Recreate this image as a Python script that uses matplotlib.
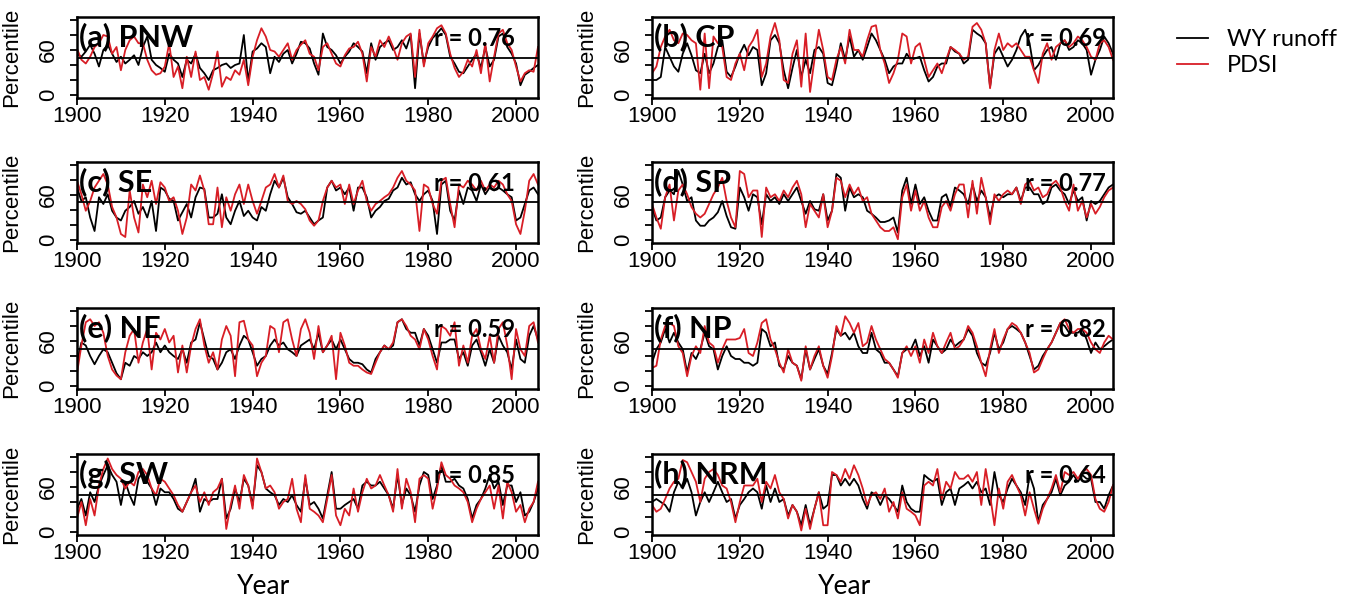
import numpy as np
from matplotlib import pyplot as plt
from matplotlib.lines import Line2D

years = np.arange(1900, 2006)

# percentile series, 1900-2005
runoff_pnw = [55, 51, 58, 67, 55, 38, 60, 67, 55, 44, 51, 42, 47, 53, 40, 64, 78, 47, 40, 36,
              31, 55, 47, 42, 24, 47, 42, 55, 36, 29, 20, 33, 36, 40, 42, 36, 40, 42, 80, 18,
              58, 62, 69, 64, 29, 51, 44, 55, 60, 42, 55, 71, 69, 62, 42, 27, 82, 64, 60, 53,
              42, 51, 58, 69, 64, 58, 29, 69, 47, 64, 69, 73, 60, 64, 73, 62, 80, 9, 82, 42,
              64, 76, 82, 89, 80, 51, 42, 31, 29, 38, 47, 55, 36, 64, 38, 47, 78, 82, 64, 55,
              42, 13, 27, 31, 36, 40]
pdsi_pnw = [62, 47, 42, 51, 64, 69, 80, 78, 55, 64, 33, 60, 73, 78, 69, 69, 47, 33, 27, 29,
            38, 69, 24, 38, 9, 51, 24, 58, 20, 24, 7, 29, 58, 11, 24, 20, 33, 27, 47, 13,
            51, 73, 89, 78, 60, 58, 51, 60, 69, 47, 60, 67, 73, 55, 51, 33, 64, 69, 55, 42,
            38, 53, 62, 64, 71, 55, 18, 64, 51, 73, 64, 78, 64, 47, 69, 78, 82, 24, 87, 38,
            69, 78, 89, 93, 82, 55, 36, 24, 31, 47, 38, 60, 29, 69, 18, 51, 82, 87, 69, 60,
            38, 18, 29, 33, 31, 64]

runoff_cp = [20, 20, 24, 64, 51, 38, 31, 55, 69, 53, 33, 29, 55, 29, 42, 64, 73, 31, 24, 38,
             55, 67, 53, 64, 60, 13, 29, 73, 80, 69, 33, 9, 36, 60, 24, 47, 29, 60, 64, 55,
             16, 13, 38, 69, 47, 78, 51, 60, 47, 64, 82, 73, 60, 47, 29, 38, 42, 42, 55, 47,
             49, 51, 33, 18, 24, 38, 42, 42, 64, 58, 55, 42, 47, 87, 82, 78, 69, 11, 55, 64,
             51, 38, 47, 60, 78, 87, 69, 33, 40, 51, 60, 64, 47, 69, 73, 60, 64, 73, 69, 60,
             27, 47, 60, 78, 69, 55]
pdsi_cp = [29, 38, 64, 78, 87, 73, 69, 82, 80, 73, 69, 7, 82, 9, 78, 69, 64, 24, 20, 42,
           55, 33, 64, 73, 87, 24, 42, 78, 96, 73, 20, 16, 55, 73, 11, 82, 4, 47, 87, 60,
           24, 20, 47, 64, 42, 87, 60, 60, 51, 73, 91, 93, 60, 42, 16, 29, 47, 82, 78, 42,
           64, 69, 47, 24, 33, 42, 29, 47, 64, 60, 55, 47, 51, 91, 96, 87, 69, 9, 60, 82,
           60, 69, 64, 69, 60, 51, 51, 33, 16, 55, 69, 47, 64, 69, 73, 64, 69, 78, 73, 64,
           51, 47, 69, 73, 64, 47]

runoff_se = [70, 52, 57, 30, 12, 57, 48, 61, 39, 30, 26, 39, 44, 52, 35, 44, 30, 52, 12, 70,
             66, 55, 52, 26, 37, 48, 30, 57, 70, 68, 30, 30, 35, 61, 30, 21, 39, 52, 32, 39,
             30, 26, 44, 39, 61, 79, 70, 83, 57, 48, 37, 35, 39, 30, 21, 26, 30, 70, 79, 66,
             70, 61, 70, 39, 70, 70, 57, 30, 39, 44, 52, 55, 66, 70, 83, 74, 77, 61, 52, 61,
             66, 52, 8, 74, 79, 39, 26, 66, 48, 70, 66, 52, 74, 61, 70, 66, 70, 66, 61, 57,
             26, 30, 48, 66, 70, 61]
pdsi_se = [79, 61, 39, 52, 70, 79, 88, 74, 44, 30, 8, 4, 66, 30, 10, 74, 57, 79, 48, 77,
           70, 52, 57, 39, 8, 30, 74, 66, 86, 66, 21, 21, 70, 17, 57, 39, 61, 74, 48, 74,
           52, 35, 52, 70, 74, 88, 70, 86, 52, 48, 52, 48, 41, 26, 19, 26, 52, 70, 79, 70,
           74, 48, 74, 48, 66, 79, 52, 39, 48, 52, 57, 61, 70, 83, 92, 79, 74, 66, 12, 74,
           70, 48, 35, 79, 83, 48, 17, 74, 70, 79, 74, 66, 79, 66, 74, 70, 79, 74, 61, 52,
           21, 8, 39, 79, 88, 74]

runoff_sp = [44, 26, 30, 57, 66, 61, 92, 74, 52, 57, 26, 19, 19, 26, 30, 37, 52, 32, 17, 15,
             70, 57, 39, 61, 57, 21, 61, 52, 57, 48, 61, 52, 61, 70, 52, 35, 52, 41, 39, 61,
             26, 39, 88, 83, 39, 70, 57, 61, 57, 39, 35, 30, 24, 24, 26, 30, 10, 66, 83, 48,
             74, 48, 57, 39, 26, 26, 57, 61, 44, 70, 66, 61, 48, 74, 52, 66, 57, 30, 57, 61,
             57, 61, 61, 70, 52, 70, 70, 61, 61, 48, 52, 70, 74, 66, 61, 48, 66, 52, 57, 26,
             52, 48, 52, 61, 70, 74]
pdsi_sp = [48, 30, 15, 57, 74, 26, 66, 74, 61, 44, 35, 30, 35, 48, 61, 70, 83, 52, 30, 17,
           92, 88, 57, 66, 66, 4, 70, 57, 61, 52, 66, 57, 70, 79, 61, 17, 48, 39, 30, 61,
           17, 39, 83, 79, 57, 74, 61, 70, 52, 57, 35, 26, 17, 12, 12, 17, 1, 57, 74, 39,
           66, 39, 52, 30, 17, 17, 44, 52, 39, 61, 74, 74, 30, 79, 35, 83, 57, 21, 61, 52,
           61, 66, 61, 70, 48, 74, 79, 66, 70, 57, 61, 74, 79, 70, 52, 39, 74, 39, 52, 30,
           48, 35, 44, 57, 66, 70]

runoff_ne = [31, 58, 54, 40, 29, 40, 49, 45, 31, 17, 9, 31, 27, 40, 36, 45, 40, 45, 58, 45,
             54, 45, 40, 36, 49, 31, 58, 62, 85, 62, 40, 36, 22, 31, 45, 49, 36, 54, 67, 62,
             45, 27, 36, 40, 54, 62, 54, 58, 49, 45, 40, 54, 58, 62, 49, 71, 45, 54, 62, 49,
             62, 49, 36, 31, 31, 29, 22, 18, 36, 45, 54, 49, 54, 85, 89, 76, 71, 71, 54, 76,
             67, 49, 31, 58, 58, 62, 62, 36, 45, 27, 54, 62, 45, 27, 49, 31, 67, 54, 45, 22,
             62, 36, 31, 67, 80, 62]
pdsi_ne = [17, 54, 85, 89, 80, 85, 71, 40, 22, 14, 9, 45, 67, 76, 31, 58, 76, 22, 71, 62,
           76, 58, 67, 18, 54, 18, 54, 76, 89, 54, 31, 45, 22, 62, 80, 67, 13, 85, 87, 62,
           54, 13, 31, 40, 80, 76, 45, 85, 89, 62, 40, 76, 89, 71, 36, 80, 45, 54, 67, 9,
           71, 54, 31, 27, 27, 22, 18, 16, 31, 45, 54, 49, 58, 85, 89, 80, 67, 62, 49, 76,
           62, 40, 22, 80, 76, 67, 85, 27, 54, 31, 67, 76, 49, 36, 67, 31, 76, 85, 54, 9,
           76, 49, 40, 80, 85, 58]

runoff_np = [31, 49, 58, 76, 58, 71, 58, 49, 18, 44, 36, 49, 71, 53, 49, 22, 40, 53, 40, 36,
             36, 31, 31, 27, 31, 76, 71, 53, 58, 27, 22, 40, 31, 27, 9, 49, 22, 36, 49, 27,
             16, 44, 76, 67, 71, 62, 71, 53, 44, 44, 71, 49, 44, 31, 31, 22, 13, 44, 49, 49,
             62, 40, 53, 31, 62, 53, 44, 49, 62, 53, 58, 62, 76, 67, 44, 31, 27, 44, 71, 49,
             58, 76, 80, 76, 71, 58, 40, 22, 27, 40, 49, 58, 71, 84, 80, 71, 71, 71, 76, 62,
             44, 58, 49, 53, 58, 62]
pdsi_np = [24, 27, 62, 80, 84, 80, 53, 44, 13, 40, 53, 44, 80, 58, 53, 31, 49, 62, 62, 62,
           64, 76, 44, 40, 58, 84, 89, 62, 49, 31, 18, 49, 31, 27, 7, 53, 22, 40, 53, 27,
           11, 40, 80, 67, 93, 84, 71, 84, 53, 58, 80, 62, 49, 36, 31, 22, 11, 44, 53, 40,
           53, 31, 62, 44, 71, 53, 44, 58, 71, 49, 53, 62, 80, 71, 53, 31, 13, 49, 76, 44,
           62, 76, 84, 80, 71, 58, 44, 18, 22, 36, 49, 58, 71, 84, 89, 76, 71, 76, 76, 71,
           58, 49, 44, 58, 67, 62]

runoff_sw = [31, 44, 22, 53, 40, 62, 76, 89, 76, 67, 36, 67, 49, 36, 71, 80, 67, 58, 36, 58,
             53, 53, 44, 31, 27, 40, 53, 71, 27, 44, 40, 44, 44, 71, 18, 31, 58, 40, 71, 62,
             36, 89, 80, 58, 53, 49, 36, 44, 40, 49, 36, 27, 71, 36, 40, 31, 18, 49, 80, 31,
             31, 36, 40, 44, 31, 62, 67, 62, 62, 67, 58, 49, 31, 76, 36, 58, 49, 27, 62, 80,
             76, 44, 62, 89, 67, 67, 71, 62, 58, 44, 18, 36, 44, 58, 76, 58, 67, 36, 62, 62,
             40, 53, 22, 27, 40, 58]
pdsi_sw = [18, 40, 9, 44, 22, 62, 84, 98, 84, 76, 71, 58, 67, 62, 80, 84, 76, 58, 49, 71,
           67, 58, 49, 36, 27, 40, 53, 62, 40, 53, 36, 53, 58, 71, 4, 36, 62, 31, 76, 62,
           31, 98, 80, 58, 62, 53, 31, 40, 44, 71, 31, 13, 76, 31, 27, 22, 13, 44, 76, 22,
           9, 31, 22, 58, 27, 53, 71, 58, 62, 76, 62, 49, 27, 84, 31, 71, 53, 13, 71, 76,
           71, 31, 58, 93, 76, 71, 62, 58, 53, 40, 13, 31, 44, 53, 62, 31, 62, 18, 67, 53,
           27, 36, 13, 31, 40, 67]

runoff_nrm = [40, 44, 40, 36, 27, 53, 67, 58, 71, 53, 22, 40, 53, 40, 53, 67, 53, 40, 44, 18,
              36, 44, 53, 58, 53, 31, 62, 40, 58, 40, 44, 22, 36, 27, 9, 36, 9, 31, 53, 31,
              36, 76, 76, 62, 71, 62, 71, 62, 44, 31, 53, 49, 36, 49, 44, 36, 27, 62, 40, 31,
              27, 27, 76, 71, 67, 71, 36, 53, 58, 36, 58, 62, 67, 58, 67, 53, 58, 36, 80, 49,
              40, 58, 71, 62, 53, 36, 76, 58, 13, 36, 44, 53, 71, 49, 62, 67, 76, 67, 76, 71,
              71, 40, 40, 31, 49, 62]
pdsi_nrm = [36, 27, 31, 44, 58, 67, 71, 96, 93, 80, 67, 40, 71, 80, 84, 76, 62, 58, 40, 13,
            40, 62, 62, 62, 71, 40, 67, 58, 76, 53, 44, 18, 36, 27, 2, 31, 4, 31, 53, 9,
            9, 80, 76, 67, 84, 71, 89, 76, 58, 36, 49, 53, 44, 58, 27, 40, 18, 53, 31, 27,
            22, 9, 62, 67, 62, 84, 44, 67, 58, 80, 71, 71, 76, 67, 80, 36, 84, 49, 9, 58,
            31, 67, 76, 62, 49, 22, 53, 31, 11, 31, 44, 58, 76, 53, 80, 76, 80, 71, 80, 84,
            76, 44, 31, 27, 40, 62]

panel_labels = ['(a) PNW', '(b) CP', '(c) SE', '(d) SP', '(e) NE', '(f) NP', '(g) SW', '(h) NRM']
r_values = ['0.76', '0.69', '0.61', '0.77', '0.59', '0.82', '0.85', '0.64']
runoff_all = [runoff_pnw, runoff_cp, runoff_se, runoff_sp, runoff_ne, runoff_np, runoff_sw, runoff_nrm]
pdsi_all = [pdsi_pnw, pdsi_cp, pdsi_se, pdsi_sp, pdsi_ne, pdsi_np, pdsi_sw, pdsi_nrm]

redColor = '#d81e26'
W, H = 1358.0, 599.0

fig = plt.figure(figsize=(13.58, 5.99), dpi=100)

colLeft = [77, 652]
colWidth = 461
rowTop = [17, 162, 308, 454]
rowHeight = 81

for i in range(8):
    row, col = i // 2, i % 2
    left = colLeft[col] / W
    bottom = 1 - (rowTop[row] + rowHeight) / H
    ax = fig.add_axes([left, bottom, colWidth / W, rowHeight / H])

    ax.plot(years, runoff_all[i], color='black', lw=1.3)
    ax.plot(years, pdsi_all[i], color=redColor, lw=1.3)
    ax.axhline(50, color='black', lw=1.3)

    ax.set_xlim(1900, 2005)
    ax.set_ylim(-4, 104)
    ax.set_xticks(range(1900, 2001, 20))
    ax.set_yticks(range(0, 101, 20))
    ax.set_yticklabels(['0', '', '', '60', '', ''], rotation=90, va='center')
    for s in ax.spines.values():
        s.set_linewidth(1.8)
    ax.tick_params(axis='both', length=5, width=1.3, labelsize=16)
    ax.tick_params(axis='x', pad=1)
    ax.tick_params(axis='y', pad=8)
    for lab in ax.get_xticklabels() + ax.get_yticklabels():
        lab.set_family('Liberation Sans')

    ax.set_ylabel('Percentile', family='Liberation Sans', fontsize=16)
    ax.yaxis.set_label_coords(-0.118, 0.5)

    ax.text(0.004, 0.93, panel_labels[i], transform=ax.transAxes, ha='left', va='top',
            family='Lato', fontweight='bold', fontsize=22)
    rx = 0.95 if col == 0 else 0.985
    ax.text(rx, 0.88, 'r = ' + r_values[i], transform=ax.transAxes, ha='right', va='top',
            family='Lato', fontweight='bold', fontsize=17)

fig.text(264 / W, 1 - 586 / H, 'Year', ha='center', va='center', family='Lato', fontsize=19)
fig.text(845 / W, 1 - 586 / H, 'Year', ha='center', va='center', family='Lato', fontsize=19)

handles = [Line2D([], [], color='black', lw=1.3), Line2D([], [], color=redColor, lw=1.3)]
fig.legend(handles, ['WY runoff', 'PDSI'], loc='upper left', bbox_to_anchor=(1156 / W, 1 - 8 / H),
           frameon=False, handlelength=1.3, handletextpad=0.8, labelspacing=0.2,
           prop={'family': 'Lato', 'size': 17})

plt.savefig('out.png', dpi=100)
plt.close()
